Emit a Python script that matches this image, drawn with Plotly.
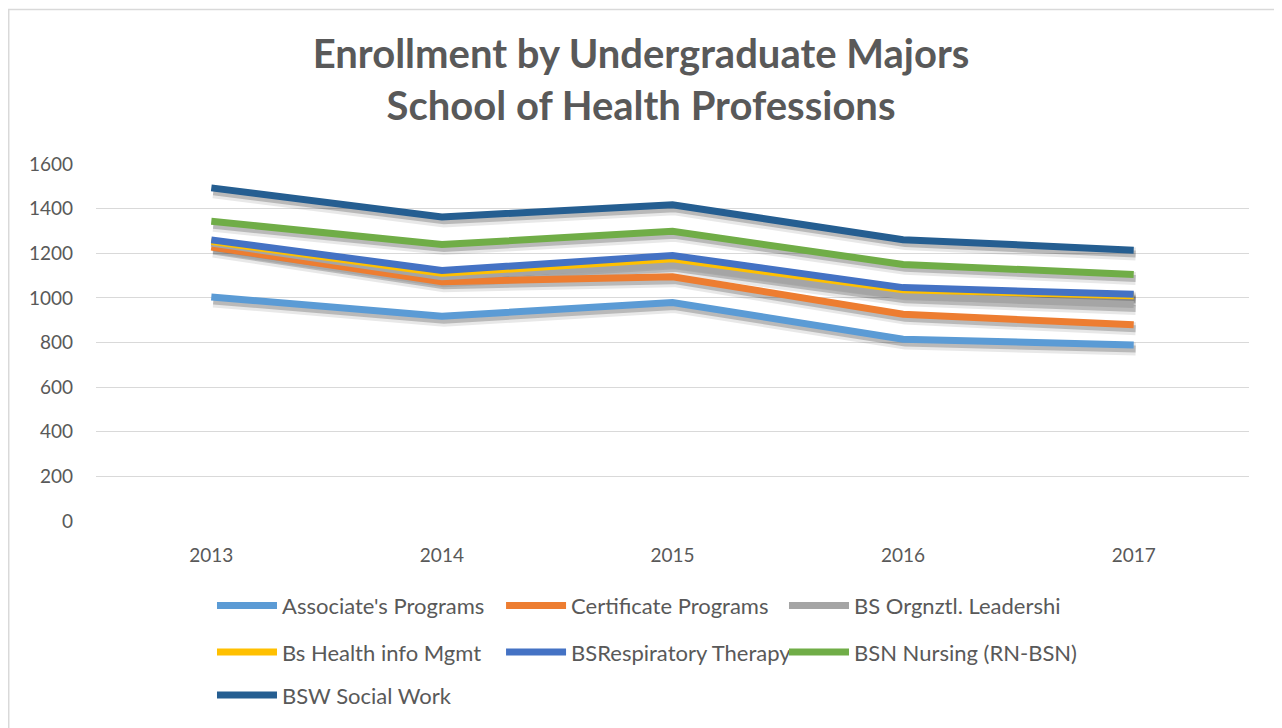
import plotly.graph_objects as go

# --- data ---
years = ["2013", "2014", "2015", "2016", "2017"]

associates = [1004, 918, 979, 815, 789]
certificate = [1228, 1072, 1095, 927, 879]
bs_orgnztl = [1246, 1095, 1150, 1009, 970]
bs_health_info = [1254, 1110, 1175, 1036, 1009]
bs_respiratory = [1260, 1123, 1190, 1046, 1016]
bsn_nursing = [1343, 1239, 1298, 1150, 1105]
bsw_social = [1493, 1363, 1417, 1261, 1214]

series_names = ["Associate's Programs", "Certificate Programs", "BS Orgnztl. Leadershi",
                "Bs Health info Mgmt", "BSRespiratory Therapy", "BSN Nursing (RN-BSN)",
                "BSW Social Work"]
series_values = [associates, certificate, bs_orgnztl, bs_health_info,
                 bs_respiratory, bsn_nursing, bsw_social]
colors = ["#5B9BD5", "#ED7D31", "#A5A5A5", "#FFC000", "#4472C4", "#70AD47", "#255E91"]

y_ticks = [0, 200, 400, 600, 800, 1000, 1200, 1400, 1600]

FONT = "Lato"
TEXT_GREY = "#595959"

fig = go.Figure()

# soft drop shadows (drawn on offset hidden axes underneath)
for vals in series_values:
    fig.add_trace(go.Scatter(x=years, y=vals, mode="lines", xaxis="x", yaxis="y",
                             line=dict(color="rgba(0,0,0,0.09)", width=13),
                             showlegend=False, hoverinfo="skip"))
    fig.add_trace(go.Scatter(x=years, y=vals, mode="lines", xaxis="x", yaxis="y",
                             line=dict(color="rgba(0,0,0,0.2)", width=7),
                             showlegend=False, hoverinfo="skip"))

# real lines; legends placed as columns (first two rows) plus a last row
legends = ["legend", "legend2", "legend3", "legend", "legend2", "legend3", "legend4"]
for i, (name, vals, col, lg) in enumerate(zip(series_names, series_values, colors, legends)):
    fig.add_trace(go.Scatter(x=years, y=vals, mode="lines", name=name,
                             xaxis="x2", yaxis="y2", legend=lg, legendgroup=f"g{i}",
                             line=dict(color=col, width=7)))

px_y = 1600 / 359.0
px_x = 1 / 230.6

legend_common = dict(orientation="v", xanchor="left", yanchor="top",
                     font=dict(family=FONT, size=22, color=TEXT_GREY),
                     itemwidth=60, tracegroupgap=15,
                     bgcolor="rgba(0,0,0,0)")

# the page body adds an 8px offset, so the figure is 8px smaller than the window
fig.update_layout(
    width=1274, height=720,
    margin=dict(l=88, r=33, t=156, b=205),
    paper_bgcolor="white", plot_bgcolor="white",
    title=dict(text="Enrollment by Undergraduate Majors<br>School of Health Professions",
               x=0.4969, xanchor="center", y=0.9167, yanchor="middle",
               font=dict(family=FONT, size=40, color=TEXT_GREY, weight="bold")),
    xaxis=dict(type="category", range=[-0.5 - 2 * px_x, 4.5 - 2 * px_x], visible=False),
    yaxis=dict(range=[4 * px_y, 1600 + 4 * px_y], visible=False),
    xaxis2=dict(type="category", overlaying="x", range=[-0.5, 4.5], showgrid=False,
                showline=False, zeroline=False, ticks="", ticklabelstandoff=21,
                tickfont=dict(family=FONT, size=19, color=TEXT_GREY)),
    yaxis2=dict(overlaying="y", range=[0, 1600], tickvals=y_ticks, showgrid=True,
                gridcolor="#D9D9D9", gridwidth=1.3, zeroline=False, showline=False,
                ticks="", ticklabelstandoff=22,
                tickfont=dict(family=FONT, size=19, color=TEXT_GREY)),
    legend=dict(x=0.1006, y=-0.1783, **legend_common),
    legend2=dict(x=0.3513, y=-0.1783, **legend_common),
    legend3=dict(x=0.5967, y=-0.1783, **legend_common),
    legend4=dict(x=0.1006, y=-0.429, **legend_common),
    shapes=[dict(type="rect", xref="paper", yref="paper",
                 x0=-0.0757, x1=1.0252, y0=-0.62, y1=1.4326,
                 line=dict(color="#D9D9D9", width=1.5), layer="below")],
    showlegend=True,
)

fig.write_html("out.html")
